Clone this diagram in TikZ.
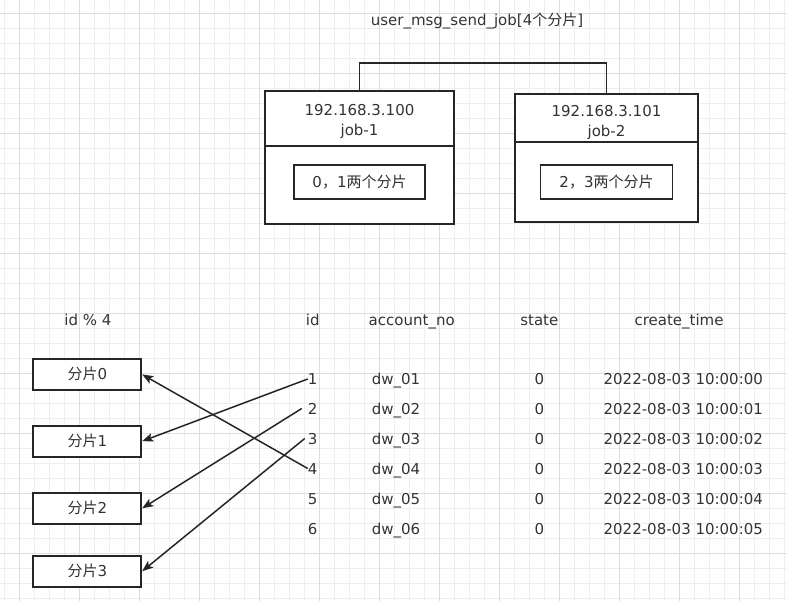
\documentclass[tikz,border=0pt]{standalone}
\usepackage{fontspec}
\setmainfont{DejaVu Sans}
\newfontfamily\cjk{Noto Sans CJK SC}
\usepackage{xcolor}
\usetikzlibrary{arrows.meta}
\definecolor{txtgray}{RGB}{51,51,51}
\definecolor{linegray}{RGB}{38,38,38}
\definecolor{gridminor}{RGB}{238,238,238}
\definecolor{gridmajor}{RGB}{221,221,221}
\tikzset{
  txt/.style={text=txtgray, font=\fontsize{15}{20.7}\selectfont, inner sep=0, align=center},
  cell/.style={txt, text height=11, text depth=0},
  jobbox/.style={draw=linegray, line width=1.8pt, fill=white, rectangle, txt},
  innerbox/.style={jobbox, minimum width=131, minimum height=34, text height=11, text depth=0},
  shardbox/.style={jobbox, minimum width=108, minimum height=31, text height=11, text depth=0},
  link/.style={draw=linegray, line width=1.5pt},
  minorline/.style={draw=gridminor, line width=1pt},
  majorline/.style={draw=gridmajor, line width=1pt}
}
\newcommand{\drawcell}{\node[cell]}
\newcommand{\drawshard}{\node[shardbox]}
\newcommand{\arrdark}{\draw[link, -{Stealth[length=11pt, width=8.5pt, inset=2.5pt]}]}

\begin{document}
\begin{tikzpicture}[x=1pt, y=-1pt]
\useasboundingbox (0,0) rectangle (787,601);
%background grid
\foreach \gx in {4.5,19.5,...,787} \draw[minorline] (\gx,0) -- (\gx,601);
\foreach \gy in {13.5,28.5,...,601} \draw[minorline] (0,\gy) -- (787,\gy);
\foreach \gx in {19.5,79.5,...,787} \draw[majorline] (\gx,0) -- (\gx,601);
\foreach \gy in {13.5,73.5,...,601} \draw[majorline] (0,\gy) -- (787,\gy);

%job with two instances
\drawcell (title) at (477,20) {user\_msg\_send\_job[4{\cjk 个分片}]};
\coordinate (bar) at (483.5,63);

\node[jobbox, minimum width=189, minimum height=55] (job1head) at (359.5,118.5) {};
\node[txt] (job1ip) at (359.5,121.5) {192.168.3.100\\job-1};
\node[jobbox, minimum width=189, minimum height=78] (job1) at (359.5,185) {};
\node[innerbox] (job1in) at (359.5,182) {0{\cjk ，}1{\cjk 两个分片}};

\node[jobbox, minimum width=183, minimum height=48] (job2head) at (606.5,118) {};
\node[txt] (job2ip) at (606.5,122.5) {192.168.3.101\\job-2};
\node[jobbox, minimum width=183, minimum height=80] (job2) at (606.5,182) {};
\node[innerbox, minimum width=132] (job2in) at (606.5,182) {2{\cjk ，}3{\cjk 两个分片}};

\draw[link] (job1head.north) |- (bar) -| (job2head.north);

%shards
\drawcell (hmod) at (88,320.5) {id \% 4};
\drawshard (s0) at (87.3,374.5) {{\cjk 分片}0};
\drawshard (s1) at (87.3,441.2) {{\cjk 分片}1};
\drawshard (s2) at (87.3,508.3) {{\cjk 分片}2};
\drawshard (s3) at (87.3,571.2) {{\cjk 分片}3};

%table
\drawcell (hid) at (312.7,320) {id};
\drawcell (hacc) at (411.7,320) {account\_no};
\drawcell (hstate) at (539.3,320) {state};
\drawcell (htime) at (679,320) {create\_time};

\drawcell (id1) at (312.7,379) {1};
\drawcell (id2) at (312.7,408.5) {2};
\drawcell (id3) at (312.7,438.5) {3};
\drawcell (id4) at (312.7,468.5) {4};
\drawcell (id5) at (312.7,498.5) {5};
\drawcell (id6) at (312.7,528.5) {6};

\drawcell (acc1) at (396,379) {dw\_01};
\drawcell (acc2) at (396,408.5) {dw\_02};
\drawcell (acc3) at (396,438.5) {dw\_03};
\drawcell (acc4) at (396,468.5) {dw\_04};
\drawcell (acc5) at (396,498.5) {dw\_05};
\drawcell (acc6) at (396,528.5) {dw\_06};

\drawcell (st1) at (539.3,379) {0};
\drawcell (st2) at (539.3,408.5) {0};
\drawcell (st3) at (539.3,438.5) {0};
\drawcell (st4) at (539.3,468.5) {0};
\drawcell (st5) at (539.3,498.5) {0};
\drawcell (st6) at (539.3,528.5) {0};

\drawcell (ct1) at (683.3,379) {2022-08-03 10:00:00};
\drawcell (ct2) at (683.3,408.5) {2022-08-03 10:00:01};
\drawcell (ct3) at (683.3,438.5) {2022-08-03 10:00:02};
\drawcell (ct4) at (683.3,468.5) {2022-08-03 10:00:03};
\drawcell (ct5) at (683.3,498.5) {2022-08-03 10:00:04};
\drawcell (ct6) at (683.3,528.5) {2022-08-03 10:00:05};

\arrdark (id1.west) -- (s1.east);
\arrdark ([xshift=-6]id2.west) -- (s2.east);
\arrdark ([xshift=-3]id3.west) -- (s3.east);
\arrdark (id4.west) -- (s0.east);
\end{tikzpicture}
\end{document}
